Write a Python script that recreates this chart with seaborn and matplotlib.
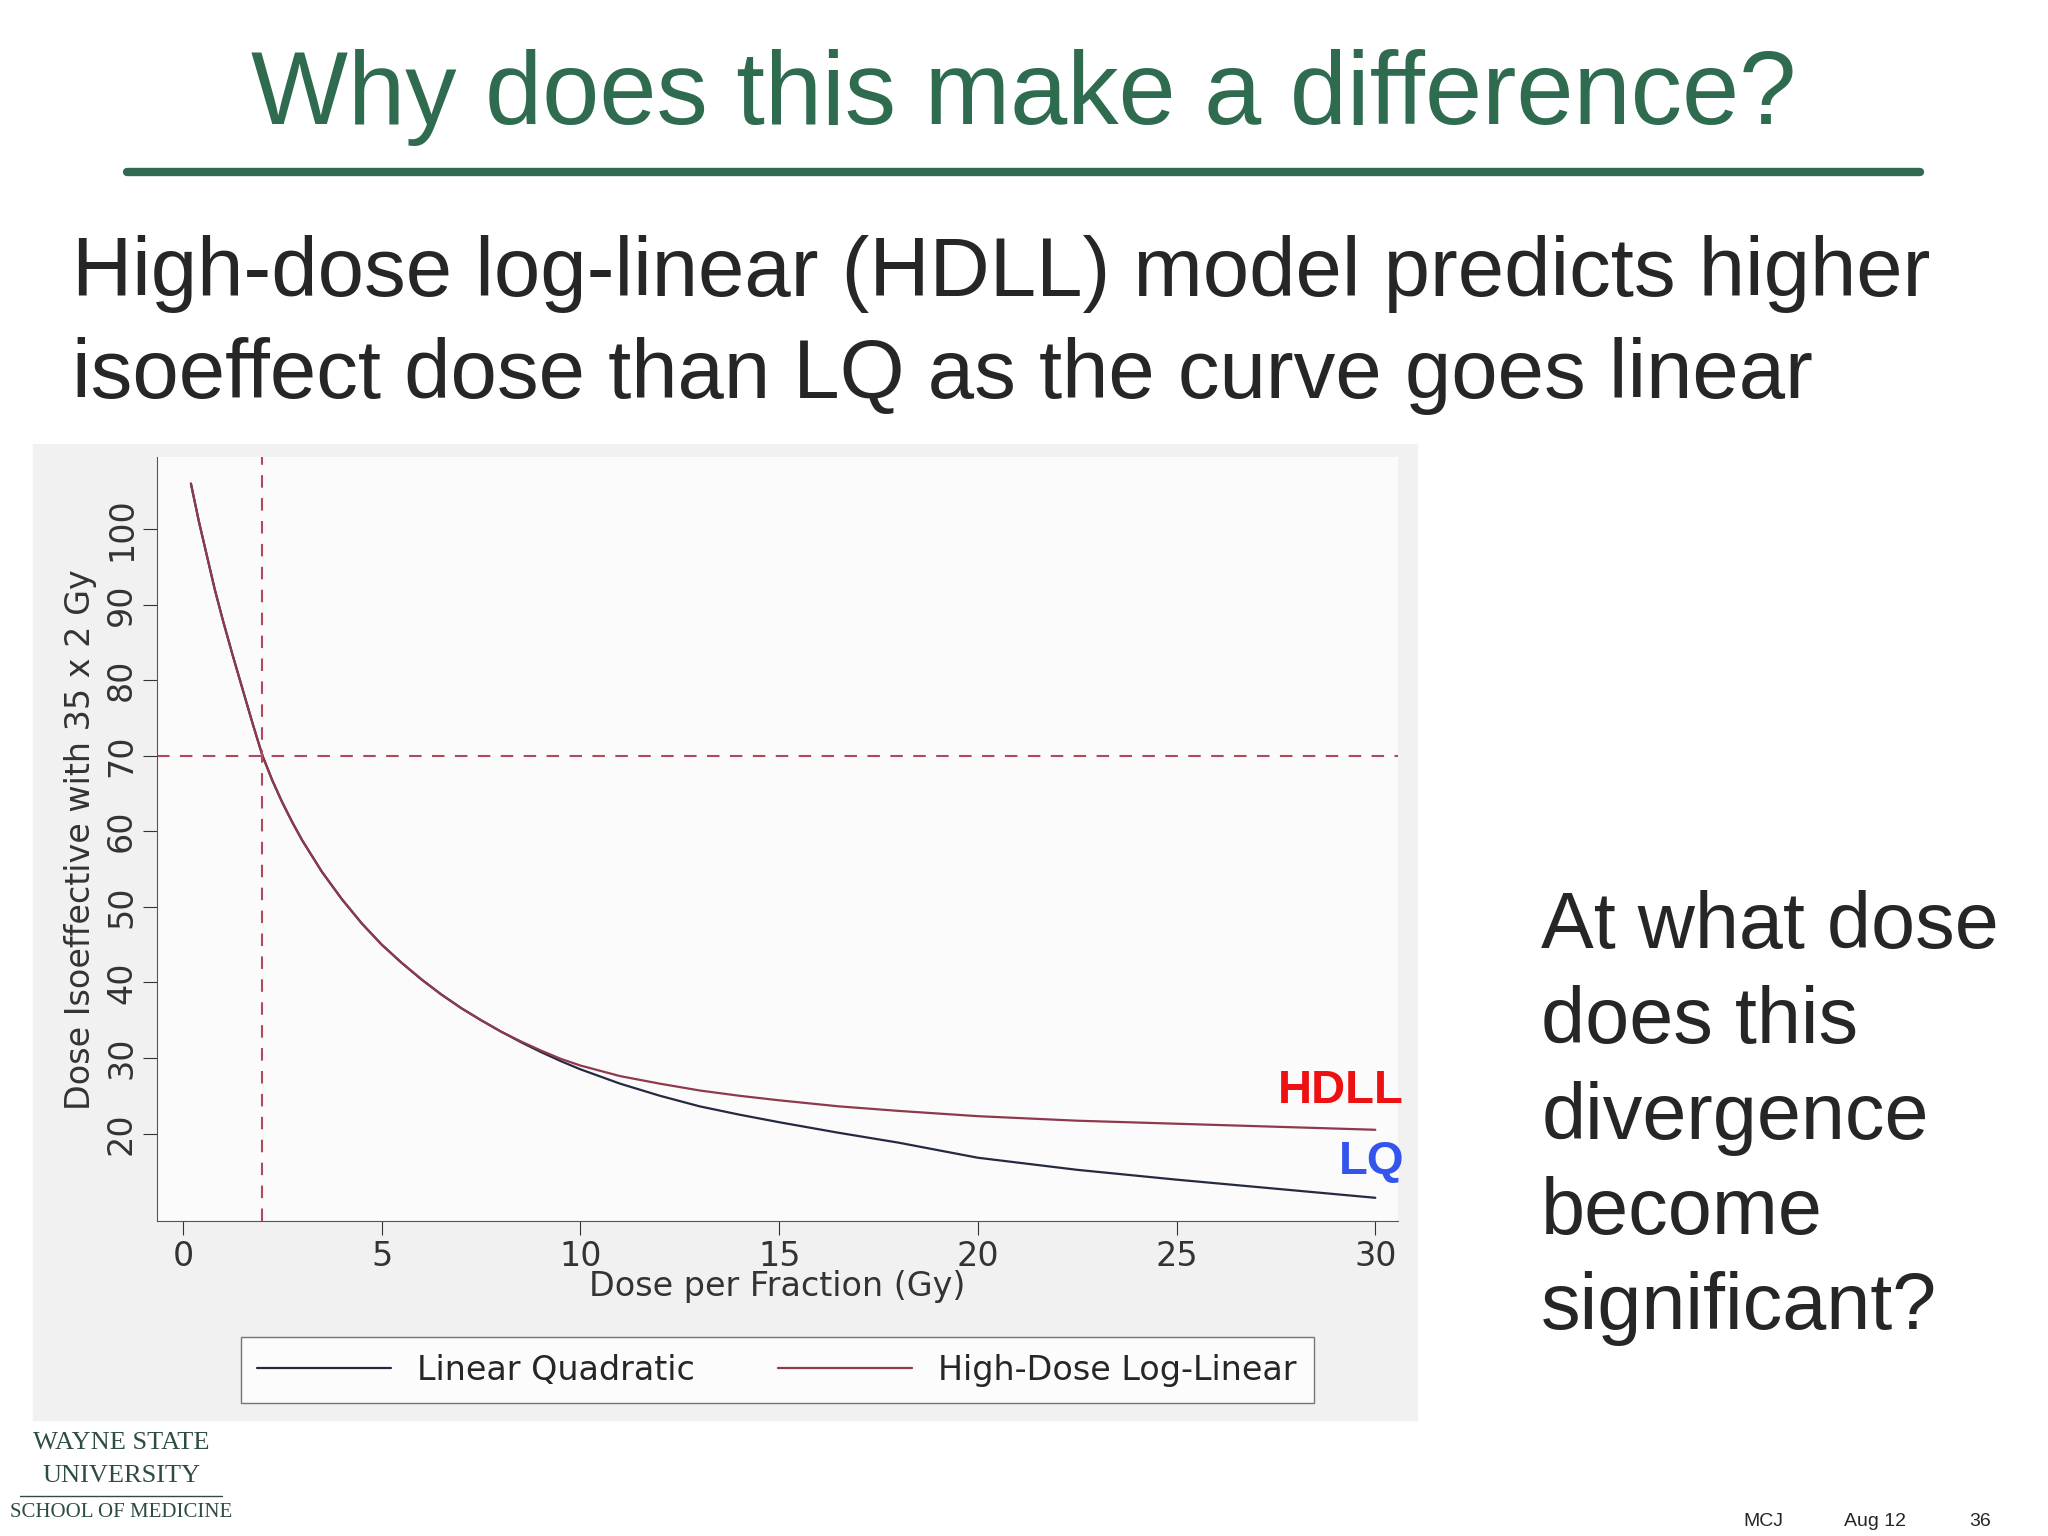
import numpy as np
import pandas as pd
import matplotlib.pyplot as plt
import seaborn as sns
from matplotlib.patches import Rectangle

# values
dose = [0.2, 0.4, 0.6, 0.8, 1, 1.25, 1.5, 1.75, 2, 2.25, 2.5, 2.75, 3, 3.5, 4, 4.5, 5, 5.5, 6,
        6.5, 7, 7.5, 8, 8.5, 9, 9.5, 10, 11, 12, 13, 14, 15, 16.5, 18, 20, 22.5, 25, 27.5, 30]
lq = [106, 101, 96.5, 92, 88, 83.3, 78.8, 74.3, 70, 66.7, 63.8, 61.2, 58.8, 54.6, 51, 47.8, 45,
      42.6, 40.4, 38.4, 36.6, 35, 33.5, 32.1, 30.8, 29.6, 28.5, 26.6, 25, 23.6, 22.5, 21.5,
      20.1, 18.8, 16.8, 15.2, 13.9, 12.7, 11.5]
hdll = [106, 101, 96.5, 92, 88, 83.3, 78.8, 74.3, 70, 66.7, 63.8, 61.2, 58.8, 54.6, 51, 47.8, 45,
        42.6, 40.4, 38.4, 36.6, 35, 33.5, 32.2, 31, 29.9, 29, 27.6, 26.6, 25.7, 25, 24.4,
        23.6, 23, 22.3, 21.7, 21.3, 20.9, 20.5]
xticks = [0, 5, 10, 15, 20, 25, 30]
yticks = [20, 30, 40, 50, 60, 70, 80, 90, 100]

df = pd.DataFrame({"dose": dose * 2, "iso": lq + hdll,
                   "model": ["Linear Quadratic"] * len(dose) + ["High-Dose Log-Linear"] * len(dose)})

sns.set_style("white")
plt.rcParams['font.family'] = ['DejaVu Sans']
W, H = 1568, 1176
fig = plt.figure(figsize=(20.48, 15.36), dpi=100)
green = "#2e6b4f"

def fx(x): return x / W
def fy(y): return 1 - y / H

fig.text(0.5, fy(75), "Why does this make a difference?", ha="center", va="center",
         color=green, fontsize=74, family="Liberation Sans")
fig.add_artist(plt.Line2D([fx(97), fx(1470)], [fy(132), fy(132)], color=green, lw=6))
fig.text(fx(55), fy(210), "High-dose log-linear (HDLL) model predicts higher", va="center",
         fontsize=60, family="Liberation Sans")
fig.text(fx(55), fy(288), "isoeffect dose than LQ as the curve goes linear", va="center",
         fontsize=60, family="Liberation Sans")

fig.add_artist(Rectangle((fx(25), fy(1087)), fx(1060), (1087 - 340) / H,
                         transform=fig.transFigure, color="#f1f1f1", zorder=0))

ax = fig.add_axes([fx(120), fy(935), fx(950), (935 - 350) / H])
ax.set_facecolor("#fbfbfb")
pal = {"Linear Quadratic": "#262a40", "High-Dose Log-Linear": "#8e3a4c"}
sns.lineplot(data=df, x="dose", y="iso", hue="model", palette=pal, ax=ax, lw=1.6, legend=False)
ax.axvline(2, color="#b04a5a", ls=(0, (6, 5)), lw=1.5)
ax.axhline(70, color="#b04a5a", ls=(0, (6, 5)), lw=1.5)
ax.set_xlim(-0.66, 30.56)
ax.set_ylim(8.4, 109.5)
ax.set_xticks(xticks)
ax.set_yticks(yticks)
ax.set_yticklabels([str(t) for t in yticks], rotation=90, va="center")
ax.tick_params(axis="both", labelsize=24, colors="#333333", length=10, direction="out",
               left=True, bottom=True)
for s in ["top", "right"]:
    ax.spines[s].set_visible(False)
for s in ["left", "bottom"]:
    ax.spines[s].set_color("#555555")
ax.set_xlabel("Dose per Fraction (Gy)", fontsize=24, labelpad=-2, color="#333333")
ax.set_ylabel("Dose Isoeffective with 35 x 2 Gy", fontsize=24, labelpad=6, color="#333333")

handles = [plt.Line2D([], [], color=c, lw=1.6) for c in pal.values()]
fig.legend(handles, list(pal.keys()), loc="center", bbox_to_anchor=(fx(595), fy(1049)), ncol=2,
           fontsize=24, frameon=True, fancybox=False, edgecolor="#555555", handlelength=4,
           columnspacing=2.5, borderpad=0.5)

fig.text(fx(1075), fy(835), "HDLL", ha="right", va="center", color="#ee1111",
         fontsize=34, weight="bold", family="Liberation Sans")
fig.text(fx(1075), fy(890), "LQ", ha="right", va="center", color="#3355ee",
         fontsize=34, weight="bold", family="Liberation Sans")

for i, line in enumerate(["At what dose", "does this", "divergence", "become", "significant?"]):
    fig.text(fx(1180), fy(710 + 73 * i), line, va="center", fontsize=57, family="Liberation Sans")

fig.text(fx(1335), fy(1165), "MCJ", fontsize=14, va="center", family="Liberation Sans")
fig.text(fx(1412), fy(1165), "Aug 12", fontsize=14, va="center", family="Liberation Sans")
fig.text(fx(1508), fy(1165), "36", fontsize=14, va="center", family="Liberation Sans")

fig.text(fx(93), fy(1105), "WAYNE STATE", ha="center", va="center", fontsize=19,
         family="Liberation Serif", color="#2e4d40")
fig.text(fx(93), fy(1130), "UNIVERSITY", ha="center", va="center", fontsize=19,
         family="Liberation Serif", color="#2e4d40")
fig.add_artist(plt.Line2D([fx(15), fx(170)], [fy(1145), fy(1145)], color="#2e4d40", lw=1))
fig.text(fx(93), fy(1158), "SCHOOL OF MEDICINE", ha="center", va="center", fontsize=15,
         family="Liberation Serif", color="#2e4d40")

fig.savefig("out.png")
